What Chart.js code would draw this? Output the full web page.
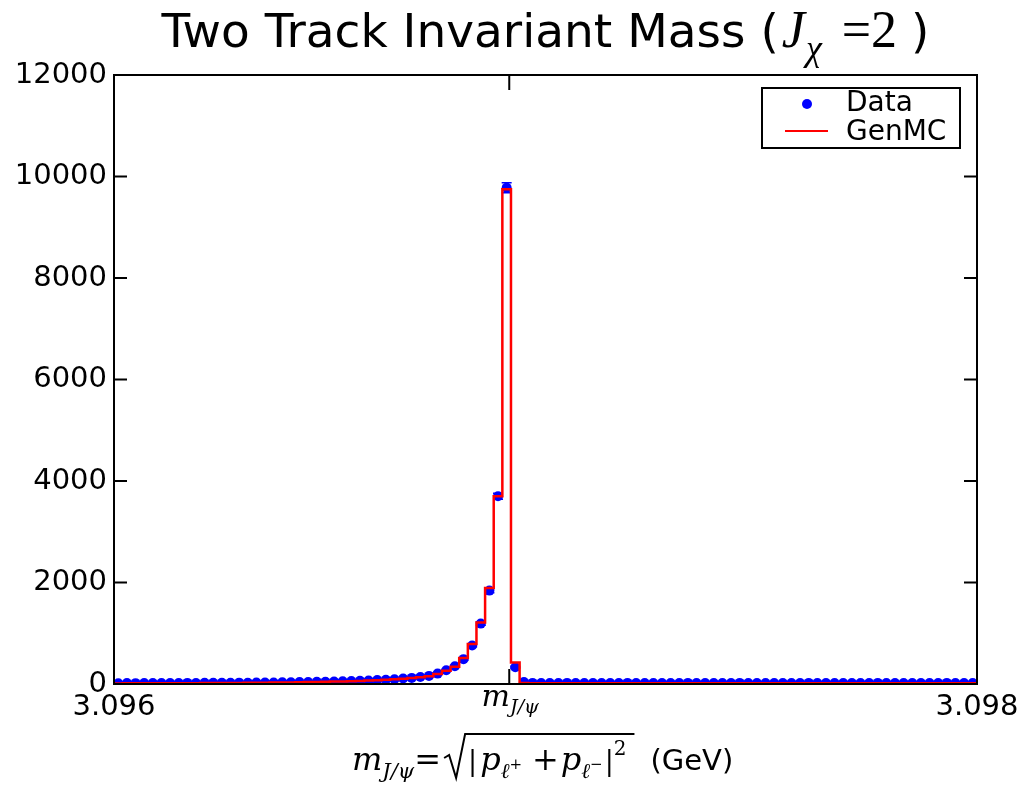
<!DOCTYPE html>
<html>
<head>
<meta charset="utf-8">
<script src="https://cdn.jsdelivr.net/npm/chart.js@4.4.0/dist/chart.umd.min.js"></script>
<style>
    html, body { margin: 0; padding: 0; background: #fff; }
    #wrap { width: 1032px; height: 787px; }
</style>
</head>
<body>
<div id="wrap"><canvas id="massChart" width="1032" height="787"></canvas></div>
<script>
// binning of the histogram (GeV)
var massMin = 3.096;
var massMax = 3.098;
var nBins = 100;
var jpsiMass = 3.096916;

var yTickValues = [0, 2000, 4000, 6000, 8000, 10000, 12000];
var xTickValues = [3.096, jpsiMass, 3.098];
var xTickLabels = ['3.096', '', '3.098'];

// reconstructed data counts per bin
var dataCounts = [
    16, 18, 17, 19, 18, 20, 19, 21, 22, 21,
    23, 24, 23, 25, 27, 26, 28, 30, 31, 33,
    35, 37, 40, 42, 45, 49, 53, 58, 63, 70,
    77, 85, 95, 107, 120, 138, 160, 205, 270, 350,
    490, 760, 1190, 1840, 3700, 9780, 330, 38, 22, 20,
    21, 19, 22, 20, 18, 21, 20, 19, 21, 22,
    20, 19, 20, 21, 18, 20, 22, 19, 20, 21,
    19, 20, 22, 18, 21, 20, 19, 21, 20, 19,
    22, 20, 21, 18, 20, 21, 19, 20, 22, 20,
    19, 21, 20, 18, 21, 20, 22, 19, 20, 21
];

// generator MC counts per bin
var mcCounts = [
    12, 13, 13, 14, 14, 15, 15, 16, 17, 17,
    18, 19, 20, 21, 22, 23, 25, 26, 28, 30,
    32, 34, 37, 40, 43, 47, 51, 56, 61, 67,
    74, 82, 92, 103, 116, 133, 155, 195, 260, 340,
    510, 790, 1210, 1890, 3700, 9750, 425, 18, 14, 14,
    13, 14, 14, 13, 14, 14, 13, 14, 14, 13,
    14, 14, 13, 14, 14, 13, 14, 14, 13, 14,
    14, 13, 14, 14, 13, 14, 14, 13, 14, 14,
    13, 14, 14, 13, 14, 14, 13, 14, 14, 13,
    14, 14, 13, 14, 14, 13, 14, 14, 13, 14
];

var binWidth = (massMax - massMin) / nBins;

var dataPoints = dataCounts.map(function (v, i) {
    return { x: massMin + (i + 0.5) * binWidth, y: v };
});
// step line: each bin drawn from its left edge
var mcPoints = mcCounts.map(function (v, i) {
    return { x: massMin + i * binWidth, y: v };
});
mcPoints.push({ x: massMax, y: mcCounts[mcCounts.length - 1] });

var sansFont = '"DejaVu Sans", sans-serif';
var mathFont = '"DejaVu Serif", serif';
var titleMath = '"Liberation Serif", serif';

// draw a row of text pieces centred on cx (or starting at left if given)
function drawRun(ctx, parts, cx, baseline, left) {
    var total = 0;
    parts.forEach(function (p) {
        if (p.t !== undefined) {
            ctx.font = p.f;
            p.w = ctx.measureText(p.t).width;
        }
        p.w += (p.gap || 0);
        total += p.w;
    });
    var x = left !== undefined ? left : cx - total / 2;
    ctx.textAlign = 'left';
    ctx.textBaseline = 'alphabetic';
    parts.forEach(function (p) {
        p.x = x;
        if (p.t !== undefined) {
            ctx.font = p.f;
            ctx.fillText(p.t, x, baseline + (p.dy || 0));
        }
        x += p.w;
    });
    return parts;
}

var histPlugin = {
    id: 'histPlugin',
    afterDatasetDraw: function (chart, args) {
        if (args.index !== 1) return;
        var ctx = chart.ctx;
        var xs = chart.scales.x, ys = chart.scales.y;
        var area = chart.chartArea;
        ctx.save();
        ctx.beginPath();
        ctx.rect(area.left, area.top, area.right - area.left, area.bottom - area.top);
        ctx.clip();
        ctx.strokeStyle = '#0000ff';
        ctx.lineWidth = 1.5;
        dataPoints.forEach(function (p) {
            var err = Math.sqrt(p.y);
            var px = xs.getPixelForValue(p.x);
            var y1 = ys.getPixelForValue(p.y + err);
            var y2 = ys.getPixelForValue(Math.max(p.y - err, 0));
            ctx.beginPath();
            ctx.moveTo(px, y1); ctx.lineTo(px, y2);
            ctx.moveTo(px - 5, y1); ctx.lineTo(px + 5, y1);
            ctx.moveTo(px - 5, y2); ctx.lineTo(px + 5, y2);
            ctx.stroke();
        });
        ctx.restore();
    },
    afterDraw: function (chart) {
        var ctx = chart.ctx;
        var a = chart.chartArea;
        var xs = chart.scales.x, ys = chart.scales.y;
        ctx.save();
        ctx.strokeStyle = '#000';
        ctx.fillStyle = '#000';
        ctx.lineWidth = 2;

        // inward ticks, matplotlib style
        ctx.beginPath();
        yTickValues.forEach(function (v) {
            var py = ys.getPixelForValue(v);
            ctx.moveTo(a.left, py); ctx.lineTo(a.left + 13, py);
            ctx.moveTo(a.right, py); ctx.lineTo(a.right - 13, py);
        });
        xTickValues.forEach(function (v) {
            var px = xs.getPixelForValue(v);
            ctx.moveTo(px, a.bottom); ctx.lineTo(px, a.bottom - 15);
            ctx.moveTo(px, a.top); ctx.lineTo(px, a.top + 15);
        });
        ctx.stroke();
        ctx.strokeRect(a.left, a.top, a.right - a.left, a.bottom - a.top);

        // title
        drawRun(ctx, [
            { t: 'Two Track Invariant Mass (', f: '47px ' + sansFont, gap: 3 },
            { t: 'J', f: 'italic 52px ' + titleMath, gap: 1 },
            { t: 'χ', f: 'italic 36px ' + titleMath, dy: 13, gap: 20 },
            { t: '=2', f: '52px ' + titleMath, gap: 14 },
            { t: ')', f: '47px ' + sansFont }
        ], (a.left + a.right) / 2, 47);

        // J/psi tick label
        var mx = xs.getPixelForValue(jpsiMass);
        drawRun(ctx, [
            { t: 'm', f: 'italic 30px ' + mathFont },
            { t: 'J/ψ', f: 'italic 19px ' + mathFont, dy: 7 }
        ], mx + 1, 706);

        // x axis label with radical
        var xl = drawRun(ctx, [
            { t: 'm', f: 'italic 32px ' + mathFont },
            { t: 'J/ψ', f: 'italic 21px ' + mathFont, dy: 8 },
            { t: '=', f: '32px ' + mathFont, gap: 2 },
            { w: 25 },
            { t: '|', f: '27px ' + mathFont, gap: 3 },
            { t: 'p', f: 'italic 32px ' + mathFont },
            { t: 'ℓ', f: 'italic 21px ' + mathFont, dy: 8 },
            { t: '+', f: '15px ' + mathFont, dy: -1, gap: 10 },
            { t: '+', f: '32px ' + mathFont, gap: 2 },
            { t: 'p', f: 'italic 32px ' + mathFont },
            { t: 'ℓ', f: 'italic 21px ' + mathFont, dy: 8 },
            { t: '−', f: '15px ' + mathFont, dy: -1, gap: 2 },
            { t: '|', f: '27px ' + mathFont },
            { t: '2', f: '20px ' + mathFont, dy: -15, gap: 24 },
            { t: '(GeV)', f: '29px ' + sansFont }
        ], 0, 770, 352);
        var rad = xl[3];
        var radEnd = xl[13].x + xl[13].w - 16;
        ctx.lineWidth = 2;
        ctx.beginPath();
        ctx.moveTo(rad.x + 1, 758);
        ctx.lineTo(rad.x + 6, 755);
        ctx.lineTo(rad.x + 13, 778);
        ctx.lineTo(rad.x + 22, 734);
        ctx.lineTo(radEnd, 734);
        ctx.stroke();

        // legend
        ctx.lineWidth = 2;
        ctx.strokeRect(762, 88, 198, 60);
        ctx.fillStyle = '#0000ff';
        ctx.beginPath();
        ctx.arc(807, 104, 5, 0, Math.PI * 2);
        ctx.fill();
        ctx.strokeStyle = '#ff0000';
        ctx.beginPath();
        ctx.moveTo(785, 131); ctx.lineTo(828, 131);
        ctx.stroke();
        ctx.fillStyle = '#000';
        ctx.font = '28px ' + sansFont;
        ctx.textAlign = 'left';
        ctx.textBaseline = 'middle';
        ctx.fillText(chart.data.datasets[1].label, 846, 104);
        ctx.fillText(chart.data.datasets[0].label, 846, 133);
        ctx.restore();
    }
};

var massChart = new Chart(document.getElementById('massChart').getContext('2d'), {
    type: 'scatter',
    data: {
        datasets: [{
            type: 'line',
            label: 'GenMC',
            data: mcPoints,
            stepped: 'before',
            borderColor: '#ff0000',
            borderWidth: 2.5,
            pointRadius: 0,
            fill: false,
            order: 0
        }, {
            type: 'scatter',
            label: 'Data',
            data: dataPoints,
            backgroundColor: '#0000ff',
            borderWidth: 0,
            pointRadius: 5,
            clip: 0,
            order: 1
        }]
    },
    options: {
        responsive: false,
        animation: false,
        devicePixelRatio: 1,
        layout: { padding: { left: 0, right: 55, top: 75, bottom: 0 } },
        plugins: {
            legend: { display: false },
            tooltip: { enabled: false },
            title: { display: false }
        },
        scales: {
            x: {
                type: 'linear',
                min: massMin,
                max: massMax,
                grid: { display: false, drawTicks: false },
                border: { display: false },
                afterBuildTicks: function (scale) {
                    scale.ticks = xTickValues.map(function (v) { return { value: v }; });
                },
                afterFit: function (scale) { scale.height = 103; },
                ticks: {
                    autoSkip: false,
                    maxRotation: 0,
                    padding: 6,
                    color: '#000',
                    font: { family: 'DejaVu Sans', size: 29 },
                    callback: function (value, index) { return xTickLabels[index]; }
                }
            },
            y: {
                min: 0,
                max: 12000,
                grid: { display: false, drawTicks: false },
                border: { display: false },
                afterBuildTicks: function (scale) {
                    scale.ticks = yTickValues.map(function (v) { return { value: v }; });
                },
                afterFit: function (scale) { scale.width = 114; },
                ticks: {
                    padding: 7,
                    color: '#000',
                    font: { family: 'DejaVu Sans', size: 29 },
                    callback: function (value) { return String(value); }
                }
            }
        }
    },
    plugins: [histPlugin]
});
</script>
</body>
</html>
